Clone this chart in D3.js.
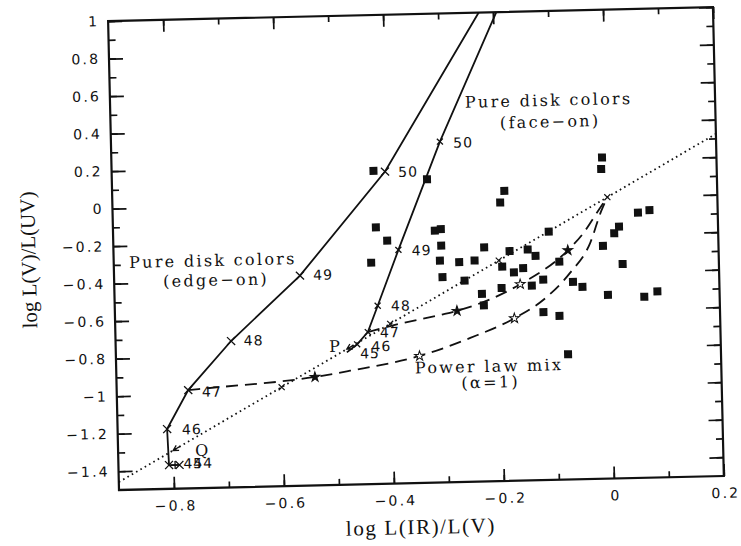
<!DOCTYPE html>
<html>
<head>
<meta charset="utf-8">
<script src="https://cdn.jsdelivr.net/npm/d3@7"></script>
<style>
  body { margin: 0; background: #fff; }
</style>
</head>
<body>
<div id="chart"></div>
<script>
// observed galaxies (filled squares)
const obsX = [-0.424, -0.327, -0.187, -0.195, -0.422, -0.315, -0.304, -0.402, -0.304, -0.226,
  -0.432, -0.307, -0.272, -0.244, -0.180, -0.147, -0.194, -0.156, -0.173, -0.303,
  -0.263, -0.232, -0.196, -0.229, -0.133, -0.108, -0.141, -0.120, -0.090, -0.121,
  -0.092, -0.078, -0.066, -0.049, -0.010, 0.011, 0.020, 0.025, 0.055, 0.076,
  -0.003, 0.063, 0.087, -0.008, -0.010];
const obsY = [0.169, 0.118, 0.046, -0.015, -0.132, -0.157, -0.150, -0.204, -0.238, -0.252,
  -0.320, -0.317, -0.328, -0.321, -0.275, -0.269, -0.357, -0.368, -0.389, -0.406,
  -0.427, -0.500, -0.471, -0.561, -0.304, -0.176, -0.462, -0.431, -0.337, -0.605,
  -0.627, -0.832, -0.447, -0.475, -0.259, -0.193, -0.158, -0.358, -0.086, -0.074,
  -0.521, -0.535, -0.508, 0.212, 0.151];

// pure disk colours, edge-on track (last point leaves the frame)
const edgeX = [-0.789, -0.797, -0.808, -0.810, -0.770, -0.690, -0.562, -0.403, -0.226];
const edgeY = [-1.374, -1.374, -1.373, -1.181, -0.976, -0.720, -0.380, 0.164, 1.0];
const edgeMark = ['x', '+', 'x', 'x', 'x', 'x', 'x', 'x', ''];

// pure disk colours, face-on track
const faceX = [-0.480, -0.461, -0.441, -0.422, -0.382, -0.302, -0.194];
const faceY = [-0.795, -0.753, -0.689, -0.550, -0.255, 0.317, 1.0];
const faceMark = ['', 'x', 'x', 'x', 'x', 'x', ''];

// age labels (log t) and where they sit
const edgeLab = ['45', '44', '46', '47', '48', '49', '50'];
const edgeLabX = [-0.782, -0.764, -0.783, -0.745, -0.667, -0.538, -0.379];
const edgeLabY = [-1.393, -1.393, -1.212, -1.014, -0.746, -0.405, 0.134];
const faceLab = ['45', '46', '47', '48', '49', '50'];
const faceLabX = [-0.456, -0.435, -0.419, -0.398, -0.358, -0.278];
const faceLabY = [-0.829, -0.793, -0.720, -0.579, -0.286, 0.282];

// dotted mixing line  y = 1.62 x
const dotX = [-0.9, 0.2];
const dotY = [-1.458, 0.324];
const dotTickX = [-0.6, -0.4, -0.2, 0];
const dotArrowX = [-0.8, -0.48];

// power law mixes (dashed)
const mixLowX = [-0.770, -0.703, -0.603, -0.539, -0.475, -0.348, -0.255, -0.174, -0.121, -0.071, -0.033, -0.012, 0.0];
const mixLowY = [-0.976, -0.962, -0.942, -0.922, -0.893, -0.823, -0.733, -0.634, -0.540, -0.399, -0.241, -0.075, 0.0];
const mixUpX = [-0.441, -0.400, -0.309, -0.278, -0.162, -0.074, -0.045, -0.020, 0.0];
const mixUpY = [-0.689, -0.660, -0.607, -0.587, -0.453, -0.278, -0.188, -0.083, 0.0];
const starsX = [-0.539, -0.348, -0.174, -0.278, -0.162, -0.074];
const starsY = [-0.922, -0.823, -0.634, -0.587, -0.453, -0.278];
const starsFilled = [true, false, false, true, false, true];

// text notes
const noteText = ['Pure disk colors', '(edge\u2212on)', 'Pure disk colors', '(face\u2212on)',
  'Power law mix', '(\u03b1=1)', 'P', 'Q'];
const noteX = [-0.872, -0.811, -0.255, -0.192, -0.357, -0.273, -0.512, -0.760];
const noteY = [-0.318, -0.423, 0.494, 0.380, -0.916, -1.001, -0.790, -1.328];

// axes
const xTicks = [-0.8, -0.6, -0.4, -0.2, 0, 0.2];
const yTicks = [-1.4, -1.2, -1, -0.8, -0.6, -0.4, -0.2, 0, 0.2, 0.4, 0.6, 0.8, 1];
const xMinor = d3.range(-8, 3).map(i => i / 10);
const yMinor = d3.range(-14, 11).map(i => i / 10);

const W = 605, H = 469;
const ink = '#111';

const svg = d3.select('#chart')
  .append('svg')
    .attr('width', 741)
    .attr('height', 546)
    .style('background-color', '#fff');

// the printed figure is scanned a little askew
const g = svg.append('g')
  .attr('transform', 'translate(119,490) rotate(-1.33) translate(0,' + (-H) + ')');

const x = d3.scaleLinear().domain([-0.9, 0.2]).range([0, W]);
const y = d3.scaleLinear().domain([-1.5, 1]).range([H, 0]);
const fmt = d3.format('~g');

function styleAxis(sel) {
  sel.select('.domain').remove();
  sel.selectAll('line').attr('stroke', ink).attr('stroke-width', 1.7);
  sel.selectAll('text')
    .attr('fill', ink)
    .style('font-family', '"DejaVu Sans", sans-serif')
    .style('font-size', '14px')
    .style('letter-spacing', '2.2px');
}

// minor ticks
g.append('g').attr('transform', 'translate(0,' + H + ')')
  .call(d3.axisBottom(x).tickValues(xMinor).tickSize(-6).tickFormat('')).call(styleAxis);
g.append('g')
  .call(d3.axisTop(x).tickValues(xMinor).tickSize(-6).tickFormat('')).call(styleAxis);
g.append('g')
  .call(d3.axisLeft(y).tickValues(yMinor).tickSize(-7).tickFormat('')).call(styleAxis);
g.append('g').attr('transform', 'translate(' + W + ',0)')
  .call(d3.axisRight(y).tickValues(yMinor).tickSize(-7).tickFormat('')).call(styleAxis);

// major ticks
g.append('g').attr('transform', 'translate(0,' + H + ')')
  .call(d3.axisBottom(x).tickValues(xTicks).tickSize(-12).tickPadding(12).tickFormat(fmt))
  .call(styleAxis)
  .selectAll('text').attr('dx', '1.1px');
g.append('g')
  .call(d3.axisTop(x).tickValues(xTicks).tickSize(-12).tickFormat('')).call(styleAxis);
g.append('g')
  .call(d3.axisLeft(y).tickValues(yTicks).tickSize(-14).tickPadding(11).tickFormat(fmt))
  .call(styleAxis)
  .selectAll('text').attr('dx', '2.2px');
g.append('g').attr('transform', 'translate(' + W + ',0)')
  .call(d3.axisRight(y).tickValues(yTicks).tickSize(-14).tickFormat('')).call(styleAxis);

// frame
g.append('rect')
  .attr('x', 0).attr('y', 0).attr('width', W).attr('height', H)
  .attr('fill', 'none').attr('stroke', ink).attr('stroke-width', 2.2);

// axis titles
g.append('text')
  .attr('x', 301).attr('y', H + 51)
  .attr('text-anchor', 'middle')
  .style('font-family', '"Liberation Serif", serif')
  .style('font-size', '21px')
  .style('letter-spacing', '1.6px')
  .attr('fill', ink)
  .text('log L(IR)/L(V)');
g.append('text')
  .attr('transform', 'translate(-78,237) rotate(-90)')
  .attr('text-anchor', 'middle')
  .style('font-family', '"Liberation Serif", serif')
  .style('font-size', '21px')
  .attr('fill', ink)
  .text('log L(V)/L(UV)');

const plot = g.append('g');

// dotted line
plot.append('path')
  .attr('d', d3.line()(dotX.map((d, i) => [x(d), y(dotY[i])])))
  .attr('fill', 'none').attr('stroke', ink)
  .attr('stroke-width', 1.8).attr('stroke-dasharray', '1.6,3.4');

const slope = (dotY[1] - dotY[0]) / (dotX[1] - dotX[0]);
const onDot = d => dotY[0] + slope * (d - dotX[0]);

// small ticks across the dotted line
plot.selectAll('.dtick')
  .data(dotTickX)
  .enter()
  .append('path')
    .attr('d', function (d) {
      const cx = x(d), cy = y(onDot(d)), s = 3;
      return 'M' + (cx - s) + ',' + (cy - s) + 'L' + (cx + s) + ',' + (cy + s) +
        'M' + (cx - s) + ',' + (cy + s) + 'L' + (cx + s) + ',' + (cy - s);
    })
    .attr('stroke', ink).attr('stroke-width', 1.2);

// arrow heads for P and Q, pointing down the line
plot.selectAll('.darrow')
  .data(dotArrowX)
  .enter()
  .append('path')
    .attr('d', function (d) {
      const tx = x(d), ty = y(onDot(d));
      const bx = x(d + 0.02) - tx, by = y(onDot(d + 0.02)) - ty;
      const len = Math.hypot(bx, by), ux = bx / len, uy = by / len;
      const s = 6, a = 0.5;
      const p1 = [tx + s * (ux * Math.cos(a) - uy * Math.sin(a)), ty + s * (ux * Math.sin(a) + uy * Math.cos(a))];
      const p2 = [tx + s * (ux * Math.cos(-a) - uy * Math.sin(-a)), ty + s * (ux * Math.sin(-a) + uy * Math.cos(-a))];
      return 'M' + p1 + 'L' + tx + ',' + ty + 'L' + p2 + 'M' + tx + ',' + ty + 'L' + (tx + 8 * ux) + ',' + (ty + 8 * uy);
    })
    .attr('fill', 'none').attr('stroke', ink).attr('stroke-width', 1.3);

// dashed power law mixes
[[mixLowX, mixLowY], [mixUpX, mixUpY]].forEach(function (m) {
  plot.append('path')
    .attr('d', d3.line().curve(d3.curveMonotoneX)(m[0].map((d, i) => [x(d), y(m[1][i])])))
    .attr('fill', 'none').attr('stroke', ink)
    .attr('stroke-width', 1.8).attr('stroke-dasharray', '12,7');
});

plot.selectAll('.star')
  .data(starsX)
  .enter()
  .append('path')
    .attr('transform', (d, i) => 'translate(' + x(d) + ',' + y(starsY[i]) + ')')
    .attr('d', d3.symbol().type(d3.symbolStar).size(30))
    .attr('fill', (d, i) => starsFilled[i] ? ink : '#fff')
    .attr('stroke', ink).attr('stroke-width', 1);

// pure disk tracks (solid)
[[edgeX, edgeY, edgeMark, 4], [faceX, faceY, faceMark, 3]].forEach(function (t) {
  plot.append('path')
    .attr('d', d3.line()(t[0].map((d, i) => [x(d), y(t[1][i])])))
    .attr('fill', 'none').attr('stroke', ink).attr('stroke-width', 1.8);
  plot.append('g')
    .selectAll('path')
    .data(t[0])
    .enter()
    .append('path')
      .attr('d', function (d, i) {
        const cx = x(d), cy = y(t[1][i]), s = t[3];
        if (t[2][i] === 'x') {
          return 'M' + (cx - s) + ',' + (cy - s) + 'L' + (cx + s) + ',' + (cy + s) +
            'M' + (cx - s) + ',' + (cy + s) + 'L' + (cx + s) + ',' + (cy - s);
        }
        if (t[2][i] === '+') {
          return 'M' + (cx - s) + ',' + cy + 'L' + (cx + s) + ',' + cy +
            'M' + cx + ',' + (cy - s) + 'L' + cx + ',' + (cy + s);
        }
        return '';
      })
      .attr('stroke', ink).attr('stroke-width', 1.3);
});

// observed galaxies
plot.selectAll('.obs')
  .data(obsX)
  .enter()
  .append('rect')
    .attr('x', d => x(d) - 4)
    .attr('y', (d, i) => y(obsY[i]) - 4)
    .attr('width', 8)
    .attr('height', 8)
    .attr('fill', ink);

// age labels
function ageLabels(lab, lx, ly) {
  plot.append('g')
    .selectAll('text')
    .data(lab)
    .enter()
    .append('text')
      .attr('x', (d, i) => x(lx[i]))
      .attr('y', (d, i) => y(ly[i]))
      .style('font-family', '"DejaVu Sans", sans-serif')
      .style('font-size', '14px')
      .style('letter-spacing', '1px')
      .attr('fill', ink)
      .text(d => d);
}
ageLabels(edgeLab, edgeLabX, edgeLabY);
ageLabels(faceLab, faceLabX, faceLabY);

// notes
plot.append('g')
  .selectAll('text')
  .data(noteText)
  .enter()
  .append('text')
    .attr('x', (d, i) => x(noteX[i]))
    .attr('y', (d, i) => y(noteY[i]))
    .style('font-family', '"DejaVu Serif", serif')
    .style('font-size', '16px')
    .style('letter-spacing', '2.3px')
    .attr('fill', ink)
    .text(d => d);
</script>
</body>
</html>
